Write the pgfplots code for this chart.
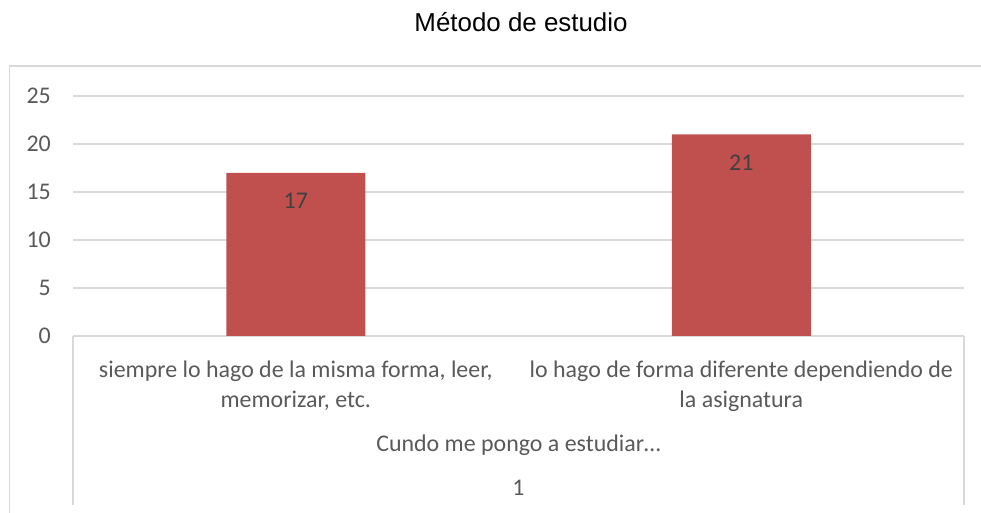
\documentclass[border=0pt]{standalone}
\usepackage{fontspec}
\setmainfont{Carlito}
\newfontfamily\titlefont{Liberation Sans}
\usepackage{pgfplots}
\pgfplotsset{compat=1.18}

\definecolor{barred}{HTML}{C0504D}
\definecolor{tickgray}{HTML}{595959}
\definecolor{labelgray}{HTML}{404040}
\definecolor{gridgray}{HTML}{D9D9D9}

\begin{document}
\begin{tikzpicture}[x=1bp, y=1bp]
\useasboundingbox (0,0) rectangle (981,513);
% chart area frame (right and bottom edges fall outside the picture)
\draw[gridgray, line width=1.5bp] (9.5,0) -- (9.5,447) -- (990,447);

\begin{axis}[
    at={(73bp,177bp)}, anchor=south west,
    scale only axis, width=891bp, height=240bp,
    ybar, bar width=139bp,
    xmin=-0.5, xmax=1.5, ymin=0, ymax=25,
    xtick={0,1},
    xticklabels={{siempre lo hago de la misma forma, leer,\\memorizar, etc.},
                 {lo hago de forma diferente dependiendo de\\la asignatura}},
    ytick={0,5,10,15,20,25},
    major tick length=0pt,
    axis x line*=bottom, axis y line*=left,
    x axis line style={draw=gridgray, line width=1.5bp},
    y axis line style={draw=none},
    ymajorgrids, grid style={draw=gridgray, line width=1.5bp},
    /pgf/number format/assume math mode=true,
    xticklabel style={align=center, font=\fontsize{24}{30}\selectfont,
                      text=tickgray, inner sep=0pt, anchor=north, yshift=-25bp},
    yticklabel style={anchor=east, inner sep=0pt, xshift=-22bp,
                      font=\fontsize{24}{29}\selectfont, text=tickgray},
    nodes near coords,
    every node near coord/.append style={anchor=center, yshift=-28bp,
                      text=labelgray, font=\fontsize{24}{29}\selectfont},
]
\addplot[fill=barred, draw=none] coordinates {(0,17) (1,21)};
\end{axis}

% multi-level category axis separators
\draw[gridgray, line width=1.5bp] (73,177) -- (73,8);
\draw[gridgray, line width=1.5bp] (964,177) -- (964,8);

\node[anchor=base, font=\fontsize{24}{29}\selectfont, text=tickgray] at (518.5,61) {Cundo me pongo a estudiar…};
\node[anchor=base, font=\fontsize{24}{29}\selectfont, text=tickgray] at (518.5,17) {1};
\node[anchor=base, font=\titlefont\fontsize{26}{30}\selectfont] at (521,481) {Método de estudio};
\end{tikzpicture}
\end{document}
